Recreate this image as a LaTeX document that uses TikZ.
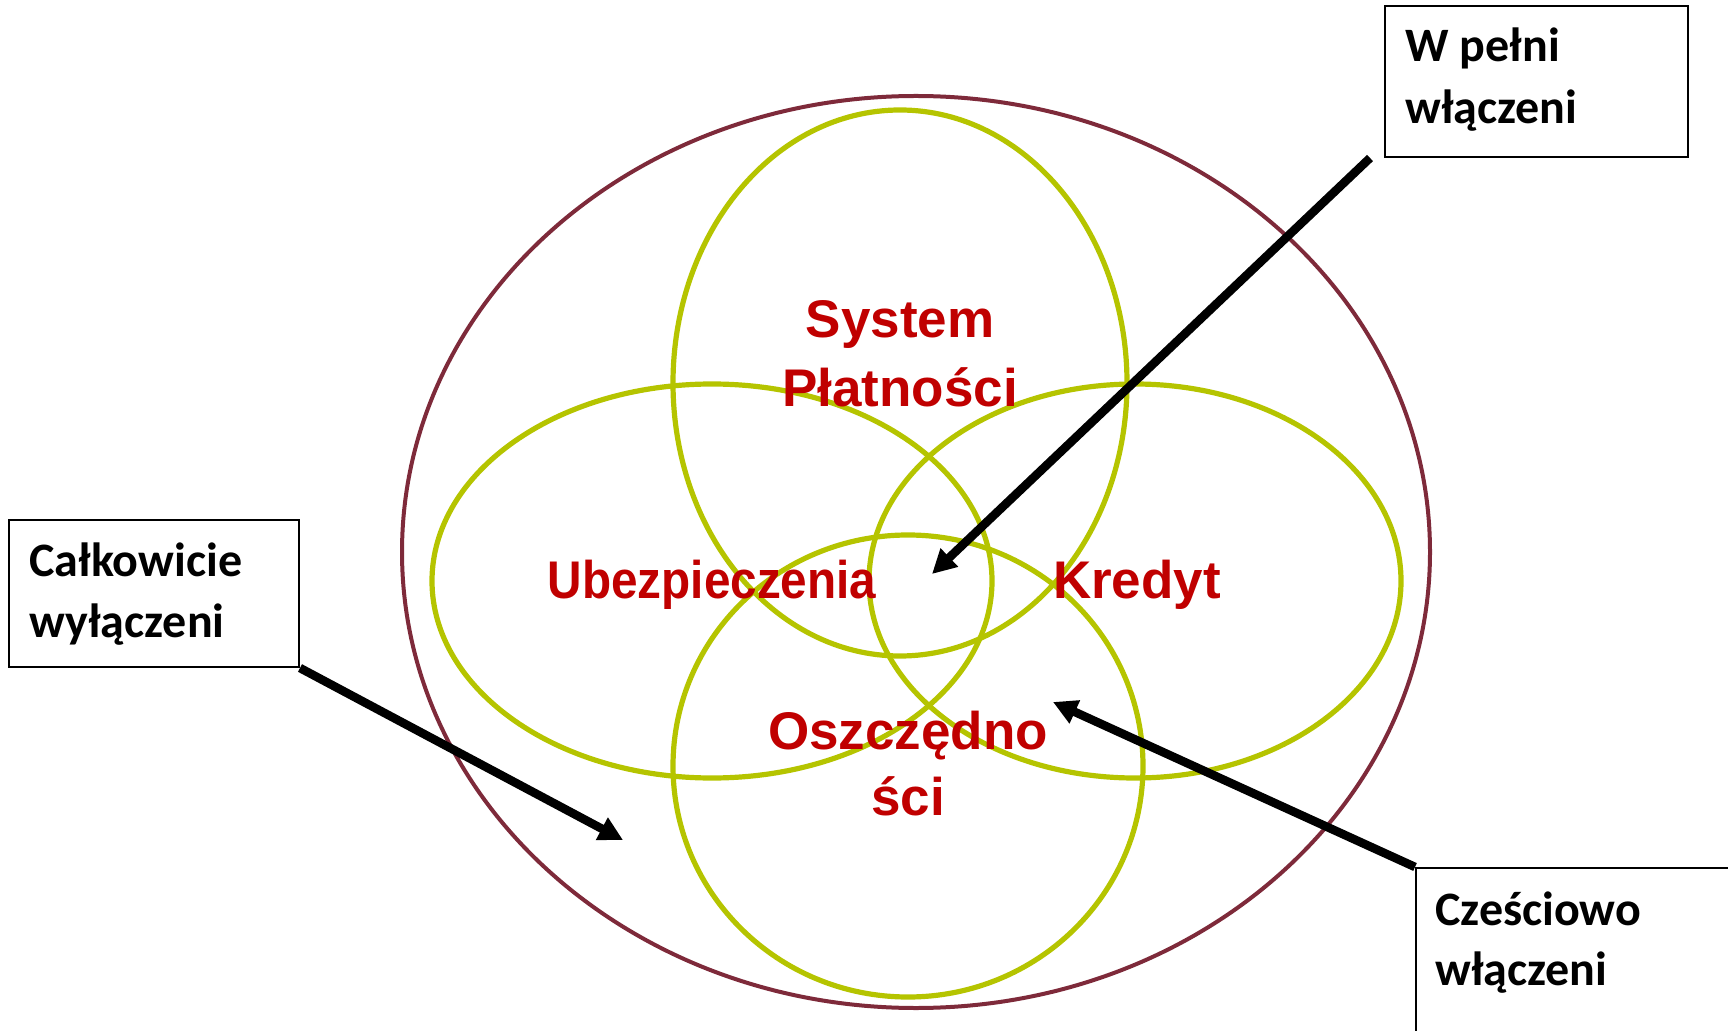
\documentclass[tikz,border=0pt]{standalone}
\usepackage{fontspec}
\newfontfamily\calibfont{Carlito}
\newfontfamily\arialfont{Liberation Sans}
\usetikzlibrary{arrows.meta}
\definecolor{outerc}{HTML}{7E2A3A}
\definecolor{vennc}{HTML}{B5C400}
\definecolor{lblred}{HTML}{C00000}
\begin{document}
\begin{tikzpicture}[x=0.5pt,y=-0.5pt,
  outerell/.style={draw=outerc, line width=2pt},
  vennell/.style={draw=vennc, line width=2.6pt},
  redlbl/.style={text=lblred, font=\arialfont\bfseries\fontsize{26.5}{32}\selectfont, anchor=base, inner sep=0},
  boxlbl/.style={font=\calibfont\bfseries\fontsize{24}{28}\selectfont, anchor=base west, inner sep=0},
  labelbox/.style={draw=black, line width=1pt, anchor=north west, inner sep=0},
  pointer/.style={line width=4.3pt, -{Triangle[length=12pt,width=12pt]}}
]
\useasboundingbox (0,0) rectangle (1728,1031);
\clip (0,0) rectangle (1728,1031);

% ellipses
\draw[outerell] (916,552) ellipse [x radius=514, y radius=456];
\draw[vennell] (900,383) ellipse [x radius=227, y radius=273];
\draw[vennell] (712,581) ellipse [x radius=280, y radius=197];
\draw[vennell] (1135,581) ellipse [x radius=266, y radius=197];
\draw[vennell] (908,766) ellipse [x radius=235, y radius=231];

% red labels
\node[redlbl] (sys) at (900,338) {System};
\node[redlbl] (plat) at (900,407) {Płatności};
\node[redlbl, xscale=0.9] (ubez) at (712,598) {Ubezpieczenia};
\node[redlbl] (kred) at (1137,598) {Kredyt};
\node[redlbl] (osz1) at (908,749) {Oszczędno};
\node[redlbl] (osz2) at (908,815) {ści};

% boxes
\node[labelbox, minimum width=151.5pt, minimum height=75.5pt] (wpbox) at (1384,5) {};
\node[boxlbl] (wp1) at (1405,62) {W pełni};
\node[boxlbl] (wp2) at (1405,124) {włączeni};

\node[labelbox, minimum width=145pt, minimum height=73.5pt] (cwbox) at (8,519) {};
\node[boxlbl] (cw1) at (29,576) {Całkowicie};
\node[boxlbl] (cw2) at (29,637) {wyłączeni};

\node[labelbox, minimum width=180pt, minimum height=110pt] (czbox) at (1415,867) {};
\node[boxlbl] (cz1) at (1435,925) {Cześciowo};
\node[boxlbl] (cz2) at (1435,985) {włączeni};

% arrows
\coordinate (wptail) at (1370,158);
\coordinate (wptip) at (932,574);
\coordinate (cwtip) at (623,840);
\coordinate (cztip) at (1053,702);
\draw[pointer] (wptail) -- (wptip);
\draw[pointer] (cwbox.south east) -- (cwtip);
\draw[pointer] (czbox.north west) -- (cztip);
\end{tikzpicture}
\end{document}
